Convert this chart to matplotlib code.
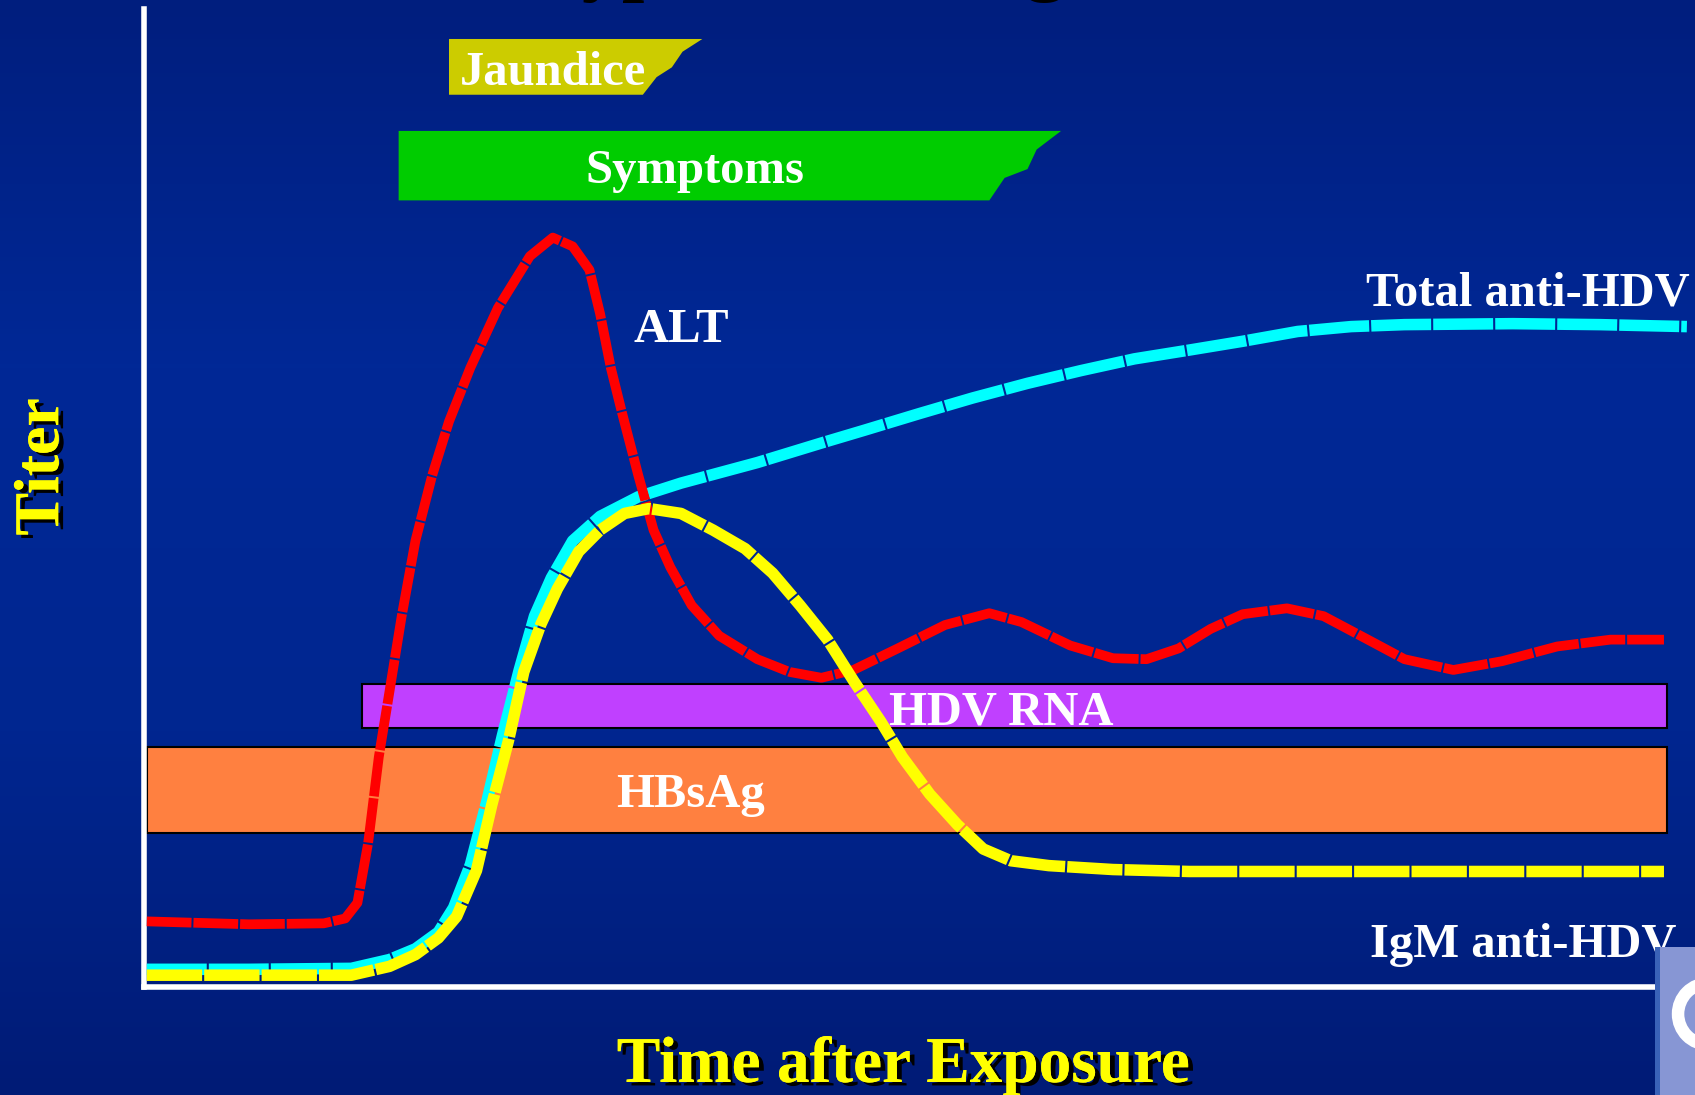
import numpy as np
import matplotlib
matplotlib.use('Agg')
import matplotlib.pyplot as plt
from matplotlib.patches import Polygon, Rectangle, Ellipse
import matplotlib.patheffects as pe
from matplotlib.colors import LinearSegmentedColormap

plt.rcParams['font.family'] = ['Liberation Serif', 'DejaVu Serif']

# Curves (time after exposure, titer)
alt_x = [0.2, 6.9, 11.8, 13.2, 14.0, 14.7, 15.4, 16.1, 16.9, 17.8, 18.9, 20.0, 21.4, 23.2,
         25.3, 26.8, 28.1, 29.2, 29.9, 30.6, 31.3, 32.4, 33.4, 34.5, 35.9, 37.7, 40.2,
         42.3, 44.4, 46.5, 49.4, 52.5, 55.4, 57.5, 60.7, 63.5, 65.7, 67.8, 69.9, 72.0,
         74.9, 77.3, 80.2, 82.6, 85.8, 89.0, 92.6, 96.1, 99.6]
alt_y = [6.7, 6.4, 6.5, 7.0, 8.6, 14.7, 23.5, 30.2, 37.9, 45.6, 52.3, 57.8, 63.3, 69.4,
         74.7, 76.6, 75.7, 73.3, 68.8, 63.3, 58.9, 52.3, 46.7, 42.9, 39.0, 35.9, 33.5,
         32.2, 31.6, 32.4, 34.6, 37.0, 38.2, 37.3, 34.9, 33.6, 33.5, 34.6, 36.6, 38.1,
         38.7, 37.9, 35.5, 33.5, 32.4, 33.3, 34.8, 35.5, 35.5]

total_x = [0.2, 6.9, 13.6, 16.1, 17.8, 19.3, 20.3, 21.4, 22.5, 23.5, 24.6, 25.6, 26.7,
           28.1, 29.9, 32.4, 35.2, 40.2, 44.4, 47.2, 50.8, 54.3, 57.9, 61.4, 64.9, 68.5,
           72.0, 75.6, 79.1, 82.6, 89.7, 95.4, 101.1]
total_y = [1.8, 1.8, 1.9, 2.8, 3.9, 5.6, 8.1, 12.5, 19.1, 25.7, 32.4, 37.9, 41.8,
           45.6, 48.1, 50.1, 51.5, 53.6, 55.6, 56.9, 58.6, 60.2, 61.7, 63.0, 64.2, 65.1,
           66.0, 67.0, 67.5, 67.7, 67.8, 67.7, 67.5]

igm_x = [0.2, 6.9, 13.6, 16.1, 17.8, 19.3, 20.5, 21.8, 22.8, 23.9, 24.9, 26.0, 27.1,
         28.5, 29.9, 31.5, 33.1, 35.2, 37.3, 39.4, 41.2, 43.0, 44.8, 46.5, 48.3, 49.7,
         51.5, 53.3, 55.0, 56.8, 59.3, 63.5, 68.5, 88.8, 99.6]
igm_y = [1.2, 1.2, 1.2, 2.1, 3.3, 5.0, 7.2, 11.9, 18.6, 25.2, 32.2, 37.0, 40.7,
         44.5, 46.7, 48.4, 48.9, 48.4, 46.7, 44.8, 42.3, 39.0, 35.5, 31.3, 27.1, 23.5,
         19.7, 16.6, 14.1, 12.9, 12.4, 12.0, 11.8, 11.8, 11.8]

# Bands: (x start, x end, y bottom, y top)
hdv_rna = (14.3, 99.8, 26.5, 31.0)
hbsag = (0.2, 99.8, 15.7, 24.5)

# Jaundice / Symptoms banners (left part rectangular, right edge ragged)
jaundice_x = [20.0, 36.6, 35.3, 34.6, 33.6, 32.7, 20.0]
jaundice_y = [96.9, 96.9, 95.6, 94.0, 93.0, 91.2, 91.2]
symptoms_x = [16.7, 60.1, 58.5, 57.9, 56.4, 55.4, 16.7]
symptoms_y = [87.5, 87.5, 85.6, 83.6, 82.7, 80.4, 80.4]

fig = plt.figure(figsize=(16.95, 10.95), dpi=100)

# background gradient
bg = fig.add_axes([0, 0, 1, 1], zorder=-5)
cmap = LinearSegmentedColormap.from_list('bg', ['#001b76', '#002690', '#002896', '#001e7e'])
bg.imshow(np.linspace(0, 1, 256).reshape(-1, 1), aspect='auto', cmap=cmap,
          origin='lower', extent=[0, 1, 0, 1])
bg.axis('off')

ax = fig.add_axes([0.0848, 0.0987, 0.9005, 0.8934])
ax.set_facecolor('none')
ax.set_xlim(0, 100)
ax.set_ylim(0, 100)
for side in ['top', 'right']:
    ax.spines[side].set_visible(False)
for side in ['left', 'bottom']:
    ax.spines[side].set_color('white')
    ax.spines[side].set_linewidth(4)
ax.set_xticks([])
ax.set_yticks([])

# banners
ax.add_patch(Polygon(np.column_stack([jaundice_x, jaundice_y]), closed=True,
                     facecolor='#cccc00', edgecolor='none', zorder=2))
ax.add_patch(Polygon(np.column_stack([symptoms_x, symptoms_y]), closed=True,
                     facecolor='#00cc00', edgecolor='none', zorder=2))

# bands
ax.add_patch(Rectangle((hdv_rna[0], hdv_rna[2]), hdv_rna[1] - hdv_rna[0], hdv_rna[3] - hdv_rna[2],
                       facecolor='#c040ff', edgecolor='black', lw=1.5, zorder=2))
ax.add_patch(Rectangle((hbsag[0], hbsag[2]), hbsag[1] - hbsag[0], hbsag[3] - hbsag[2],
                       facecolor='#ff8040', edgecolor='black', lw=1.5, zorder=2))

# curves
ax.plot(total_x, total_y, color='#00ffff', lw=8.3, linestyle=(0, (5.2, 0.18)),
        dash_capstyle='butt', zorder=4, clip_on=False)
ax.plot(alt_x, alt_y, color='#ff0000', lw=7.0, linestyle=(0, (4.6, 0.2)),
        dash_capstyle='butt', zorder=5, clip_on=False)
ax.plot(igm_x, igm_y, color='#ffff00', lw=8.3, linestyle=(0, (4.8, 0.18)),
        dash_capstyle='butt', zorder=6, clip_on=False)

# labels in white
lab = dict(color='white', fontsize=35, fontweight='bold', ha='center', va='baseline', zorder=7)
ax.text(26.8, 92.2, 'Jaundice', **lab)
ax.text(36.1, 82.2, 'Symptoms', **lab)
ax.text(56.2, 26.8, 'HDV RNA', **lab)
ax.text(35.8, 18.4, 'HBsAg', **lab)
ax.text(35.2, 65.9, 'ALT', **lab)
ax.text(90.7, 69.7, 'Total anti-HDV', **lab)
ax.text(90.4, 3.1, 'IgM anti-HDV', **lab)

# axis titles, yellow with black shadow
shadow = [pe.withSimplePatchShadow(offset=(3.5, -2.5), shadow_rgbFace='black', alpha=1.0),
          pe.Normal()]
fig.text(0.533, 0.0119, 'Time after Exposure', color='#ffff00', fontsize=47,
         fontweight='bold', ha='center', va='baseline', path_effects=shadow)
fig.text(0.0255, 0.5735, 'Titer', color='#ffff00', fontsize=46, fontweight='bold',
         rotation=90, ha='center', va='center', path_effects=shadow)

# slide title, almost entirely above the visible area
fig.text(0.315, 1.013, 'Typical Serologic Course', color='black', fontsize=58,
         fontweight='bold', ha='left', va='baseline')

# logo fragment in the lower right corner
fig.patches.append(Rectangle((0.9764, 0), 0.03, 0.135, transform=fig.transFigure,
                             facecolor='#8796d4', edgecolor='none', zorder=1))
fig.patches.append(Rectangle((0.9764, 0), 0.003, 0.135, transform=fig.transFigure,
                             facecolor='#3a62b8', edgecolor='none', zorder=1))
fig.patches.append(Ellipse((1.008, 0.074), 0.036, 0.056, transform=fig.transFigure,
                           facecolor='none', edgecolor='white', lw=9, zorder=1))

fig.savefig('out.png', dpi=100)
